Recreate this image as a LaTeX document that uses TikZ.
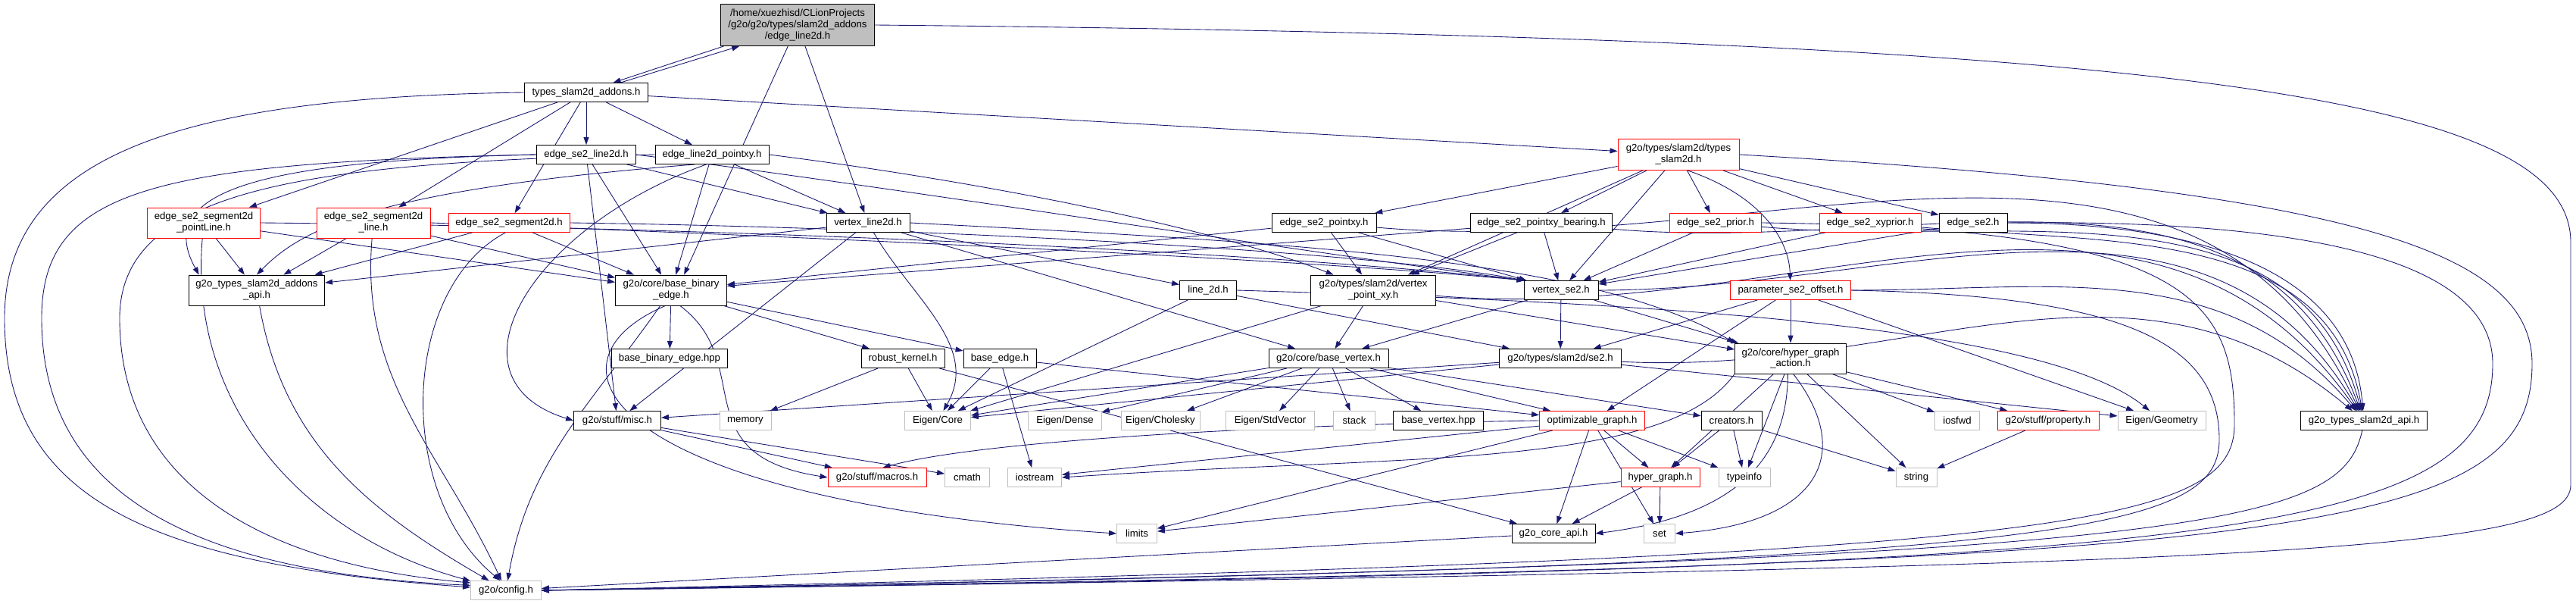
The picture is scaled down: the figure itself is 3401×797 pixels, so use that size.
\documentclass[tikz,border=0pt]{standalone}
\usepackage{fontspec}
\setmainfont{Liberation Sans}
\usetikzlibrary{arrows.meta}
\definecolor{edgeblue}{HTML}{191970}
\definecolor{boxgray}{HTML}{BFBFBF}
\pgfdeclarelayer{edges}
\pgfsetlayers{edges,main}

\begin{document}
\begin{tikzpicture}[x=0.02cm,y=-0.02cm,
  hfile/.style={draw=black,fill=white,line width=0.5pt,inner sep=0pt,align=center,minimum height=0.5cm,font=\fontsize{7.5}{8.5}\selectfont},
  sysfile/.style={hfile,draw=boxgray},
  redfile/.style={hfile,draw=red},
  curfile/.style={hfile,fill=boxgray},
  wd/.style={minimum width=#1*0.02cm},
  tall/.style={minimum height=#1*0.02cm},
  dep/.style={edgeblue,line width=0.5pt,-{Triangle[length=0.2cm,width=0.14cm]}}]

\useasboundingbox (0,0) rectangle (3401,797);

\node[curfile,wd=203,tall=55] (main) at (1053,33) {/home/xuezhisd/CLionProjects\\/g2o/g2o/types/slam2d\_addons\\/edge\_line2d.h};
\node[hfile,wd=163] (tsa) at (774,122) {types\_slam2d\_addons.h};
\node[hfile,wd=131] (sel) at (774,204) {edge\_se2\_line2d.h};
\node[hfile,wd=150] (elp) at (940,204) {edge\_line2d\_pointxy.h};
\node[redfile,wd=160,tall=41] (ts) at (2216,204) {g2o/types/slam2d/types\\\_slam2d.h};

\node[redfile,wd=149,tall=40] (spl) at (269,294) {edge\_se2\_segment2d\\\_pointLine.h};
\node[redfile,wd=150,tall=40] (ssl) at (493,294) {edge\_se2\_segment2d\\\_line.h};
\node[redfile,wd=160] (ss) at (672,294) {edge\_se2\_segment2d.h};
\node[hfile,wd=110] (vl2) at (1146,294) {vertex\_line2d.h};
\node[hfile,wd=138] (esp) at (1748,294) {edge\_se2\_pointxy.h};
\node[hfile,wd=187] (espb) at (2035,294) {edge\_se2\_pointxy\_bearing.h};
\node[redfile,wd=121] (eprior) at (2265,294) {edge\_se2\_prior.h};
\node[redfile,wd=134] (exy) at (2469,294) {edge\_se2\_xyprior.h};
\node[hfile,wd=90] (ese2) at (2605,294) {edge\_se2.h};

\node[hfile,wd=179,tall=40] (api) at (339,383) {g2o\_types\_slam2d\_addons\\\_api.h};
\node[hfile,wd=147,tall=40] (bbe) at (886,383) {g2o/core/base\_binary\\\_edge.h};
\node[hfile,wd=75] (l2d) at (1595,383) {line\_2d.h};
\node[hfile,wd=165,tall=40] (vpxy) at (1813,383) {g2o/types/slam2d/vertex\\\_point\_xy.h};
\node[hfile,wd=98] (vse2) at (2061,383) {vertex\_se2.h};
\node[redfile,wd=159] (pso) at (2364,383) {parameter\_se2\_offset.h};

\node[hfile,wd=153] (bbehpp) at (884,473) {base\_binary\_edge.hpp};
\node[hfile,wd=110] (rk) at (1192,473) {robust\_kernel.h};
\node[hfile,wd=96] (be) at (1320,473) {base\_edge.h};
\node[hfile,wd=158] (bv) at (1754,473) {g2o/core/base\_vertex.h};
\node[hfile,wd=161] (se2) at (2060,473) {g2o/types/slam2d/se2.h};
\node[hfile,wd=147,tall=40] (hga) at (2364,473) {g2o/core/hyper\_graph\\\_action.h};

\node[hfile,wd=115] (misc) at (815,555) {g2o/stuff/misc.h};
\node[sysfile,wd=68] (memory) at (984,555) {memory};
\node[sysfile,wd=87] (ecore) at (1238,555) {Eigen/Core};
\node[sysfile,wd=97] (edense) at (1406,555) {Eigen/Dense};
\node[sysfile,wd=104] (echol) at (1532,555) {Eigen/Cholesky};
\node[sysfile,wd=117] (estd) at (1677,555) {Eigen/StdVector};
\node[sysfile,wd=55] (stack) at (1788,555) {stack};
\node[hfile,wd=119] (bvhpp) at (1899,555) {base\_vertex.hpp};
\node[redfile,wd=139] (og) at (2102,555) {optimizable\_graph.h};
\node[hfile,wd=80] (creators) at (2286,555) {creators.h};
\node[sysfile,wd=59] (iosfwd) at (2584,555) {iosfwd};
\node[redfile,wd=134] (prop) at (2704,555) {g2o/stuff/property.h};
\node[sysfile,wd=116] (egeo) at (2854,555) {Eigen/Geometry};
\node[hfile,wd=167] (sapi) at (3121,555) {g2o\_types\_slam2d\_api.h};

\node[redfile,wd=130] (macros) at (1158,630) {g2o/stuff/macros.h};
\node[sysfile,wd=59] (cmath) at (1277,630) {cmath};
\node[sysfile,wd=71] (iostream) at (1366,630) {iostream};
\node[redfile,wd=104] (hg) at (2192,630) {hyper\_graph.h};
\node[sysfile,wd=68] (typeinfo) at (2303,630) {typeinfo};
\node[sysfile,wd=54] (string) at (2530,630) {string};

\node[sysfile,wd=53] (limits) at (1501,704) {limits};
\node[hfile,wd=110] (capi) at (2051,704) {g2o\_core\_api.h};
\node[sysfile,wd=41] (set) at (2191,704) {set};
\node[sysfile,wd=93] (config) at (668,779) {g2o/config.h};

\begin{pgfonlayer}{edges}
\draw[dep] (main.-164) -- (tsa.20);
\draw[dep] (main) -- (bbe.50);
\draw[dep] (main) -- (vl2);
\draw[dep] (main.east) .. controls (2900,50) and (3394,130) .. (3394,320) -- (3394,640) .. controls (3394,730) and (3000,748) .. (config.east);

\draw[dep] (tsa.16) -- (main.-160);
\draw[dep] (tsa) -- (sel);
\draw[dep] (tsa) -- (elp);
\draw[dep] (tsa) -- (spl);
\draw[dep] (tsa) -- (ssl);
\draw[dep] (tsa) -- (ss);
\draw[dep] (tsa) -- (ts);
\draw[dep] (tsa.west) .. controls (250,128) and (6,200) .. (6,420) .. controls (6,660) and (200,745) .. (config.175);

\draw[dep] (sel.west) .. controls (350,212) and (200,250) .. (api.165);
\draw[dep] (sel.west) .. controls (200,215) and (55,250) .. (55,420) .. controls (55,650) and (250,755) .. (config.172);
\draw[dep] (sel) -- (misc);
\draw[dep] (sel) -- (bbe);
\draw[dep] (sel) -- (vl2);
\draw[dep] (sel.east) .. controls (1200,250) and (1700,330) .. (vse2.165);

\draw[dep] (elp.-150) .. controls (500,250) and (400,300) .. (api.north);
\draw[dep] (elp.west) .. controls (400,215) and (158,250) .. (158,420) .. controls (158,640) and (350,745) .. (config.168);
\draw[dep] (elp.-120) .. controls (700,300) and (580,500) .. (misc.west);
\draw[dep] (elp) -- (bbe);
\draw[dep] (elp) -- (vl2);
\draw[dep] (elp.east) .. controls (1300,240) and (1600,300) .. (vpxy);

\draw[dep] (spl) -- (api);
\draw[dep] (spl) to[out=-95,in=165] (config);
\draw[dep] (spl) -- (bbe);
\draw[dep] (spl.east) .. controls (1000,300) and (1700,335) .. (vse2.165);

\draw[dep] (ssl) -- (api);
\draw[dep] (ssl) to[out=-95,in=115] (config);
\draw[dep] (ssl) -- (bbe);
\draw[dep] (ssl.east) .. controls (1000,310) and (1700,340) .. (vse2.165);

\draw[dep] (ss) -- (api);
\draw[dep] (ss.-110) .. controls (530,380) and (520,650) .. (config.120);
\draw[dep] (ss) -- (bbe);
\draw[dep] (ss.east) .. controls (1200,300) and (1800,330) .. (vse2.165);

\draw[dep] (api) to[out=-80,in=150] (config);

\draw[dep] (vl2) -- (api);
\draw[dep] (vl2) -- (misc);
\draw[dep] (vl2) -- (l2d);
\draw[dep] (vl2) -- (bv);
\draw[dep] (vl2.east) .. controls (1700,320) and (2100,340) .. (hga.north west);
\draw[dep] (vl2) to[out=-60,in=60] (ecore);

\draw[dep] (ts) -- (esp);
\draw[dep] (ts) -- (vpxy);
\draw[dep] (ts) -- (espb);
\draw[dep] (ts) -- (vse2);
\draw[dep] (ts) -- (eprior);
\draw[dep] (ts.-60) .. controls (2330,260) and (2362,320) .. (pso);
\draw[dep] (ts) -- (exy);
\draw[dep] (ts) -- (ese2);
\draw[dep] (ts.east) .. controls (3100,250) and (3343,330) .. (3343,480) .. controls (3343,720) and (3000,745) .. (config.east);

\draw[dep] (esp) -- (bbe);
\draw[dep] (esp) -- (vpxy);
\draw[dep] (esp) -- (vse2);
\draw[dep] (esp) to[out=-5,in=115] (sapi);

\draw[dep] (espb) -- (bbe);
\draw[dep] (espb) -- (vpxy);
\draw[dep] (espb) -- (vse2);
\draw[dep] (espb) to[out=-5,in=110] (sapi);

\draw[dep] (eprior) -- (vse2);
\draw[dep] (eprior) to[out=-5,in=105] (sapi);
\draw[dep] (eprior.east) .. controls (2900,300) and (2950,400) .. (2950,560) .. controls (2950,700) and (2700,735) .. (config.east);

\draw[dep] (exy) -- (vse2);
\draw[dep] (exy) to[out=-5,in=100] (sapi);

\draw[dep] (ese2) -- (vse2);
\draw[dep] (ese2) to[out=0,in=95] (sapi);
\draw[dep] (ese2.east) .. controls (3000,290) and (3291,330) .. (3291,480) .. controls (3291,720) and (2900,750) .. (config.east);

\draw[dep] (l2d) -- (ecore);
\draw[dep] (l2d) -- (se2);
\draw[dep] (l2d.east) .. controls (2200,400) and (2700,430) .. (egeo);

\draw[dep] (vpxy) -- (bv);
\draw[dep] (vpxy) -- (hga);
\draw[dep] (vpxy) -- (ecore);
\draw[dep] (vpxy) to[out=-5,in=125] (sapi);

\draw[dep] (vse2) -- (bv);
\draw[dep] (vse2) -- (se2);
\draw[dep] (vse2) -- (hga);
\draw[dep] (vse2) to[out=0,in=120] (sapi);

\draw[dep] (pso) -- (se2);
\draw[dep] (pso) -- (og);
\draw[dep] (pso) -- (hga);
\draw[dep] (pso) -- (egeo);
\draw[dep] (pso) to[out=0,in=130] (sapi);
\draw[dep] (pso.east) .. controls (2800,390) and (2930,450) .. (2930,580) .. controls (2930,710) and (2700,745) .. (config.east);

\draw[dep] (se2) -- (misc);
\draw[dep] (se2) -- (ecore);
\draw[dep] (se2) -- (egeo);
\draw[dep] (se2) to[out=-3,in=140] (sapi);

\draw[dep] (bbe) to[out=-125,in=80] (config);
\draw[dep] (bbe) -- (bbehpp);
\draw[dep] (bbe) -- (rk);
\draw[dep] (bbe) -- (be);
\draw[dep] (bbe.-60) .. controls (1000,480) and (900,600) .. (macros.west);
\draw[dep] (bbe.-110) .. controls (700,480) and (800,660) .. (limits.west);

\draw[dep] (be) -- (ecore);
\draw[dep] (be) -- (og);
\draw[dep] (be) -- (iostream);

\draw[dep] (rk) -- (memory);
\draw[dep] (rk) -- (ecore);
\draw[dep] (rk) -- (capi);

\draw[dep] (misc) -- (macros);
\draw[dep] (misc) -- (cmath);

\draw[dep] (bv) -- (ecore);
\draw[dep] (bv) -- (edense);
\draw[dep] (bv) -- (echol);
\draw[dep] (bv) -- (estd);
\draw[dep] (bv) -- (stack);
\draw[dep] (bv) -- (bvhpp);
\draw[dep] (bv) -- (og);
\draw[dep] (bv) -- (creators);

\draw[dep] (og) -- (hg);
\draw[dep] (og) -- (capi);
\draw[dep] (og) -- (set);
\draw[dep] (og) -- (typeinfo);
\draw[dep] (og) -- (limits);
\draw[dep] (og) -- (iostream);
\draw[dep] (og.west) .. controls (1700,560) and (1300,580) .. (macros.60);

\draw[dep] (creators) -- (hg);
\draw[dep] (creators) -- (typeinfo);
\draw[dep] (creators) -- (string);

\draw[dep] (hga) -- (hg);
\draw[dep] (hga) -- (typeinfo);
\draw[dep] (hga.-100) .. controls (2360,600) and (2300,680) .. (capi.east);
\draw[dep] (hga.-80) .. controls (2450,600) and (2400,690) .. (set.east);
\draw[dep] (hga) -- (string);
\draw[dep] (hga) -- (iosfwd);
\draw[dep] (hga) -- (prop);
\draw[dep] (hga.south west) .. controls (2200,620) and (1850,600) .. (iostream.east);

\draw[dep] (hg) -- (limits);
\draw[dep] (hg) -- (capi);
\draw[dep] (hg) -- (set);

\draw[dep] (prop) -- (string);
\draw[dep] (capi) -- (config);
\draw[dep] (sapi.-100) .. controls (3090,700) and (2900,740) .. (config.east);
\end{pgfonlayer}
\end{tikzpicture}
\end{document}
